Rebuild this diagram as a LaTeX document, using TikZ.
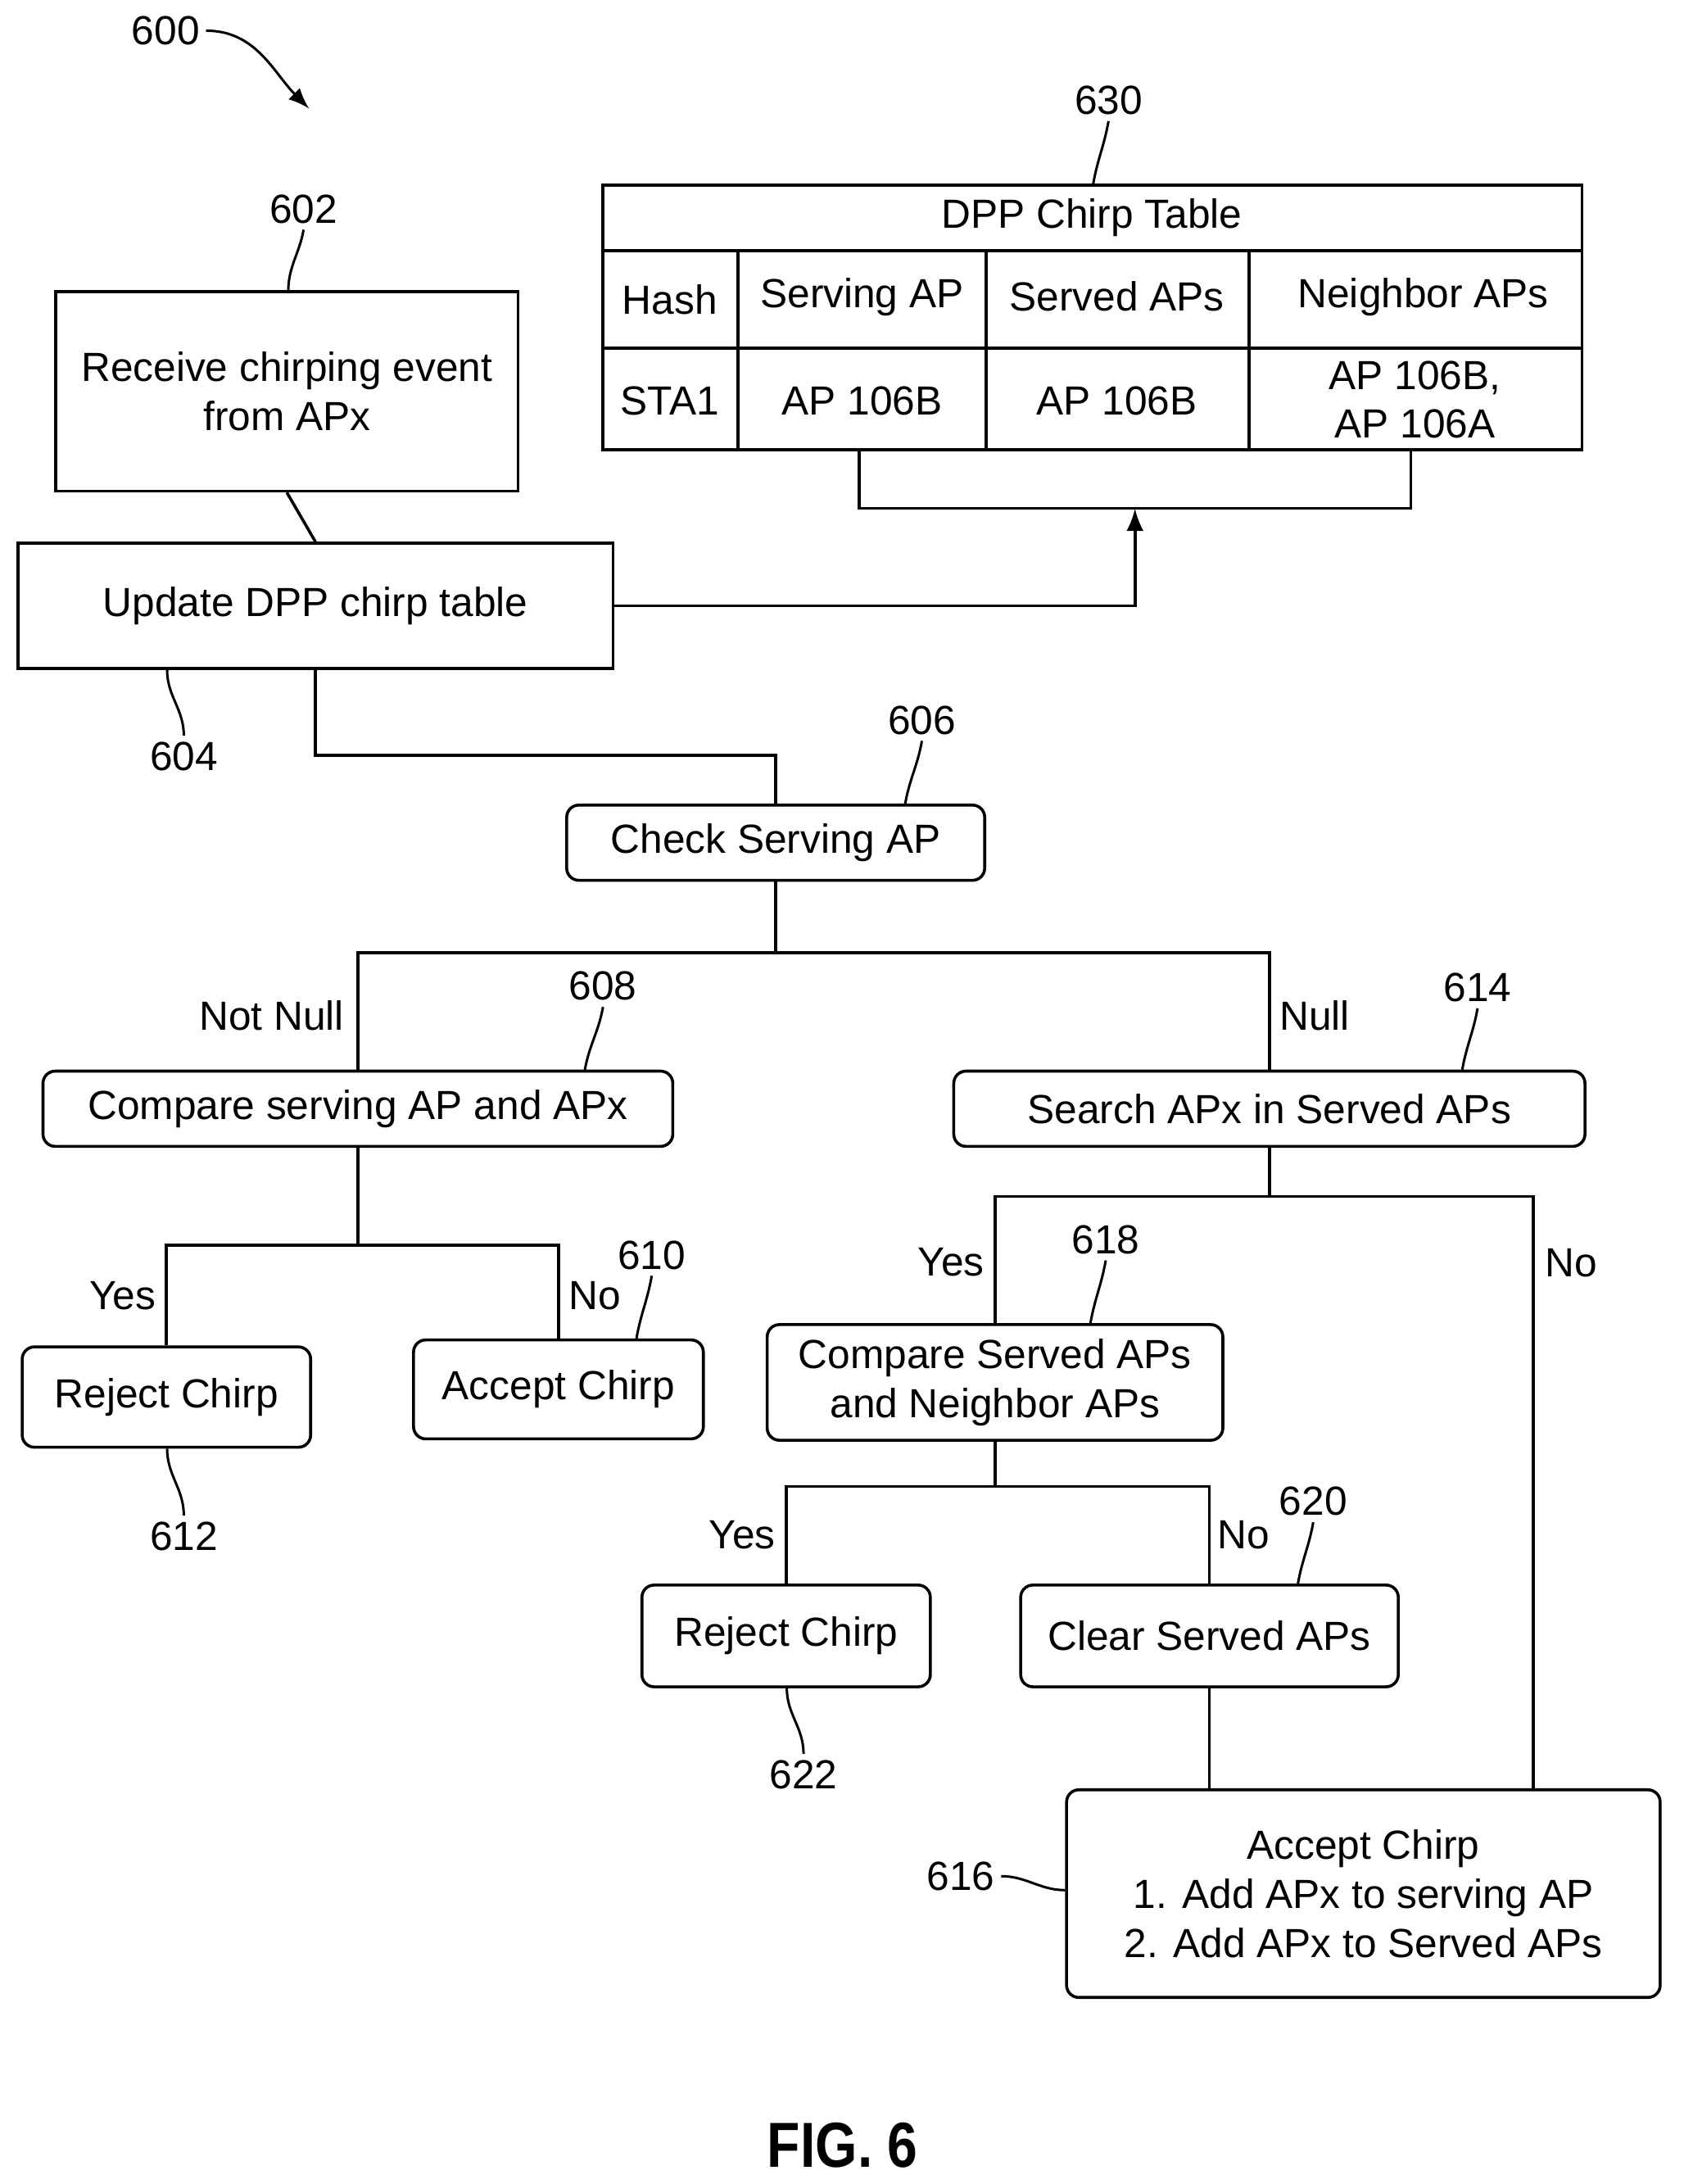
\documentclass[tikz,border=0pt]{standalone}
\usepackage{fontspec}
\setmainfont{Liberation Sans}
\usetikzlibrary{positioning}
\usetikzlibrary{arrows}

\begin{document}
\begin{tikzpicture}[x=0.01cm, y=-0.01cm, line width=0.6pt,
	font=\fontsize{8.3pt}{10pt}\selectfont,
	box/.style={draw, rectangle, inner sep=0pt, align=center},
	rbox/.style={draw, rectangle, rounded corners=2.5pt, inner sep=0pt, align=center},
	lbl/.style={inner sep=1pt},
	lead/.style={line width=0.5pt}]
			\useasboundingbox (0,0) rectangle (1209,1568);
			
			% boxes
			\node[box, minimum width=3.32cm, minimum height=1.43cm] (R) at (206,281) {Receive chirping event\\from APx};
			\node[box, minimum width=4.27cm, minimum height=0.90cm] (U) at (226.5,435) {Update DPP chirp table};
			\node[rbox, minimum width=3.00cm, minimum height=0.54cm] (CS) at (557,605) {Check Serving AP};
			\node[rbox, minimum width=4.52cm, minimum height=0.54cm] (CA) at (257,796) {Compare serving AP and APx};
			\node[rbox, minimum width=4.53cm, minimum height=0.54cm] (SA) at (911.5,796) {Search APx in Served APs};
			\node[rbox, minimum width=2.07cm, minimum height=0.72cm] (RJ1) at (119.5,1003) {Reject Chirp};
			\node[rbox, minimum width=2.08cm, minimum height=0.71cm] (AC1) at (401,997.5) {Accept Chirp};
			\node[rbox, minimum width=3.27cm, minimum height=0.83cm] (CN) at (714.5,992.5) {Compare Served APs\\and Neighbor APs};
			\node[rbox, minimum width=2.07cm, minimum height=0.73cm] (RJ2) at (564.5,1174.5) {Reject Chirp};
			\node[rbox, minimum width=2.71cm, minimum height=0.73cm] (CL) at (868.5,1174.5) {Clear Served APs};
			\node[rbox, minimum width=4.26cm, minimum height=1.49cm] (AC2) at (979,1359.5) {Accept Chirp\\1. Add APx to serving AP\\2. Add APx to Served APs};
			
			% table
			\draw (433,133) rectangle (1136,323);
			\draw (433,180) -- (1136,180);
			\draw (433,250) -- (1136,250);
			\foreach \cx in {530,708,897} \draw (\cx,180) -- (\cx,323);
			\node (T0) at (784,156) {DPP Chirp Table};
			\node (T1) at (481,215) {Hash};
			\node (T2) at (619,213) {Serving AP};
			\node (T3) at (802,213) {Served APs};
			\node (T4) at (1022,213) {Neighbor APs};
			\node (T5) at (481,288) {STA1};
			\node (T6) at (619,288) {AP 106B};
			\node (T7) at (802,288) {AP 106B};
			\node[align=center, inner sep=0pt] (T8) at (1016,287) {AP 106B,\\AP 106A};
			\coordinate (brk) at (815,365);
			\draw (617,323) -- (617,365) -| (1013,323);
			
			% connectors
			\draw (R.south) -- (U.north);
			\draw[-latex] (U.east) -| (brk);
			\draw (U.south) -- ++(0,61) -| (CS.north);
			\draw (CS.south) -- ++(0,51) -| (CA.north);
			\draw (CS.south) -- ++(0,51) -| (SA.north);
			\draw (CA.south) -- ++(0,70) -| (RJ1.north);
			\draw (CA.south) -- ++(0,70) -| (AC1.north);
			\draw (SA.south) -- ++(0,35) -| (CN.north);
			\draw (SA.south) -- ++(0,35) -| (AC2.north -| 1101,0);
			\draw (CN.south) -- ++(0,32) -| (RJ2.north);
			\draw (CN.south) -- ++(0,32) -| (CL.north);
			\draw (CL.south) -- (CL.south |- AC2.north);
			
			% branch texts
			\node (nn) at (195,729) {Not Null};
			\node (nl) at (944,729) {Null};
			\node (y1) at (88,930) {Yes};
			\node (n1) at (427,930) {No};
			\node (y2) at (683,906) {Yes};
			\node (n2) at (1128,907) {No};
			\node (y3) at (533,1102) {Yes};
			\node (n3) at (893,1102) {No};
			
			% reference numerals
			\node[lbl] (L600) at (119,22) {600};
			\node[lbl] (L602) at (218,150) {602};
			\node[lbl] (L604) at (132,543) {604};
			\node[lbl] (L606) at (662,517) {606};
			\node[lbl] (L608) at (433,708) {608};
			\node[lbl] (L610) at (468,901) {610};
			\node[lbl] (L612) at (132,1103) {612};
			\node[lbl] (L614) at (1061,709) {614};
			\node[lbl] (L616) at (690,1347) {616};
			\node[lbl] (L618) at (794,890) {618};
			\node[lbl] (L620) at (943,1078) {620};
			\node[lbl] (L622) at (577,1274) {622};
			\node[lbl] (L630) at (796,72) {630};
			
			\draw[lead, -latex] (L600.east) to[out=0, in=135] (222,78);
			\draw[lead] (L602.south) to[out=-100, in=90] (207,209);
			\draw[lead] (L604.north) to[out=90, in=-90] (120,481);
			\draw[lead] (L606.south) to[out=-100, in=80] (650,577);
			\draw[lead] (L608.south) to[out=-100, in=80] (420,768);
			\draw[lead] (L610.south) to[out=-100, in=80] (457,961);
			\draw[lead] (L612.north) to[out=90, in=-90] (120,1040);
			\draw[lead] (L614.south) to[out=-100, in=80] (1050,768);
			\draw[lead] (L616.east) to[out=0, in=180] (AC2.west |- 0,1357);
			\draw[lead] (L618.south) to[out=-100, in=80] (783,950);
			\draw[lead] (L620.south) to[out=-100, in=80] (932,1137);
			\draw[lead] (L622.north) to[out=90, in=-90] (565,1212);
			\draw[lead] (L630.south) to[out=-100, in=80] (785,132);
			
			\node[font=\fontsize{13pt}{15pt}\selectfont\bfseries] (fig) at (605,1540) {\scalebox{0.85}[1]{FIG. 6}};
			\end{tikzpicture}
\end{document}
